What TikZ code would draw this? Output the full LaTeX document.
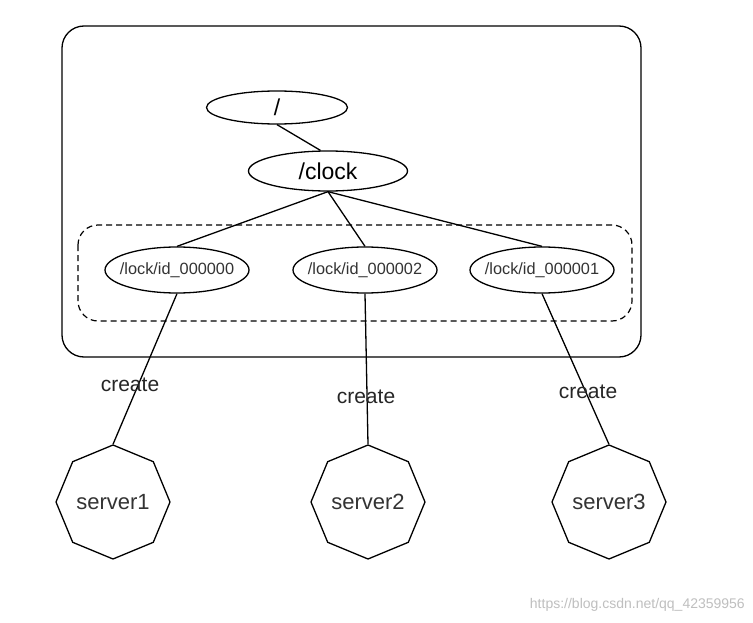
\documentclass[tikz,border=0pt]{standalone}
\usepackage{fontspec}
\setmainfont{Liberation Sans}
\usetikzlibrary{shapes.geometric}
\tikzset{
  conn/.style={line width=1.3pt, black},
  elnode/.style={draw, line width=1.3pt, ellipse, inner sep=0pt},
  srv/.style={draw, line width=1.3pt, regular polygon, regular polygon sides=8,
    shape border rotate=22.5, minimum size=114pt, inner sep=0pt,
    font=\fontsize{22}{22}\selectfont, text=black!80},
  lbl/.style={font=\fontsize{21}{21}\selectfont, text=black!85, inner sep=0pt},
  child/.style={elnode, inner xsep=-25pt, minimum width=144pt, minimum height=46pt,
    font=\fontsize{16.3}{16.3}\selectfont, text=black!80},
}
\begin{document}
\begin{tikzpicture}[x=1pt, y=-1pt]
\path[fill=white, use as bounding box] (0,0) rectangle (753,623);
% outer container
\draw[line width=1.3pt, rounded corners=22pt] (62,26) rectangle (641,357);
% dashed group
\draw[line width=1.2pt, dashed, dash pattern=on 6pt off 4pt, rounded corners=20pt] (78,225) rectangle (632,321);
% nodes
\node[elnode, minimum width=141pt, minimum height=33pt, font=\fontsize{23}{23}\selectfont] (root) at (277,107.5) {/};
\node[elnode, inner xsep=-15pt, minimum width=159pt, minimum height=40pt, font=\fontsize{23}{23}\selectfont] (clock) at (328,171) {/clock};
\node[child] (c0) at (177,270) {/lock/id\_000000};
\node[child] (c2) at (365,270) {/lock/id\_000002};
\node[child] (c1) at (542,270) {/lock/id\_000001};
\node[srv] (s1) at (113,502) {server1};
\node[srv] (s2) at (368,502) {server2};
\node[srv] (s3) at (609,502) {server3};
% connectors
\draw[conn] (root.south) -- (clock.110);
\draw[conn] (clock.south) -- (c0.north);
\draw[conn] (clock.south) -- (c2.north);
\draw[conn] (clock.south) -- (c1.north);
\draw[conn] (c0.south) -- (s1.north);
\draw[conn] (c2.south) -- (s2.north);
\draw[conn] (c1.south) -- (s3.north);
% labels
\node[lbl] (l1) at (130,385) {create};
\node[lbl] (l2) at (366,397) {create};
\node[lbl] (l3) at (588,392) {create};
\node[font=\fontsize{14}{14}\selectfont, text=black!25, anchor=east, inner sep=0pt] (wm) at (745,605) {https://blog.csdn.net/qq\_42359956};
\end{tikzpicture}
\end{document}
